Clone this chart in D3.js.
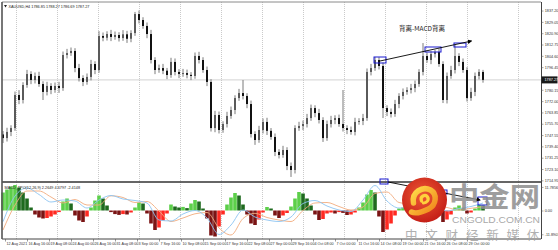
<!DOCTYPE html>
<html><head><meta charset="utf-8">
<script src="https://cdn.jsdelivr.net/npm/d3@7"></script>
<style>html,body{margin:0;padding:0;background:#fff;overflow:hidden}svg{display:block}</style>
</head><body>
<svg id="c" width="558" height="250"></svg>
<script>
// ---------- DATA ----------
const symbolTitle = "XAUUSD,H4  1786.85 1788.27 1786.69 1787.27";
const macdTitle = "MACD_TPO(12,26,9) 2.2649 4.6797 -2.4148";
const openFirst = 1748.0;
const closes = [
1745.4,1749.8,1752.6,1776.4,1772.8,1783.6,1791.5,1787.2,1790.1,1784.3,
1778.6,1782.9,1780.0,1782.9,1781.4,1805.2,1806.6,1808.1,1795.8,1788.6,
1785.8,1789.4,1798.7,1794.4,1818.9,1817.6,1820.3,1818.2,1819.6,1817.4,
1820.1,1816.9,1821.0,1834.7,1830.4,1826.1,1820.3,1801.6,1794.4,1795.8,
1793.9,1790.8,1800.2,1793.0,1791.5,1792.2,1790.9,1790.1,1804.5,1801.6,
1794.4,1785.8,1752.6,1762.0,1751.2,1755.5,1761.3,1765.6,1774.2,1777.8,
1775.7,1769.9,1748.3,1744.0,1751.2,1757.0,1750.6,1746.2,1735.4,1733.2,
1736.8,1725.3,1722.4,1752.6,1754.1,1755.5,1759.8,1767.0,1763.4,1758.4,
1745.4,1755.5,1758.4,1759.8,1755.5,1752.6,1751.2,1749.8,1757.0,1757.7,
1759.8,1793.0,1795.8,1801.6,1797.3,1767.0,1764.2,1762.7,1769.9,1775.7,
1778.6,1780.0,1781.4,1784.3,1793.0,1804.5,1801.6,1805.9,1807.4,1798.7,
1772.8,1790.1,1794.4,1804.5,1800.2,1794.4,1774.2,1778.6,1790.1,1793.0,
1787.27];
const wickUp = [
2.5,3,2,2.5,3.5,2,3,2,2.5,3, 2,3,2,2.5,3,2.5,3,2.5,2,3,
2,2.5,3,2,3.5,2.5,2,3,2.5,2, 3,2.5,2,1.5,2.5,2,2.5,3,2,2.5,
3,2,3,2.5,2,3,2.5,2,2.5,3, 2,2.5,2,3,2.5,2,3,2.5,2,3,
9.4,2,2.5,2,3,2.5,3,2,2.5,2, 3,2,2.5,2,3,2.5,3,2.5,2,3,
2,2.5,3,2,2.5,24.5,2,2.5,3,2, 3,2.5,3,2.2,2,2.5,2,2.5,3,2,
2.5,2,3,2.5,2,9.3,2.5,2,1.5,2.5, 2,2.5,3,7.9,2,2.5,2,3,2.5,2,
1.5];
const wickDn = [
3.6,2.5,3,2,3,2.5,2,3,2.5,2, 5.8,2.5,3,2,3.5,2,2.5,2,3,2.5,
3,2,2.5,3,2,2.5,2,3,2,2.5, 2,3,2.5,2,2.5,2,3,2.5,3,2,
2.5,3,2,2.5,3,2,2.5,3,2,2.5, 2,3,2.5,3,2.5,2,2.5,2,3,2,
2.5,3,2.5,3.5,2,2.5,3,2,3,2.5, 2,3,5,2.5,2,3,2.5,2,3,2.5,
2.8,2,2.5,3,2,2.5,3,2,2.5,2, 3,2,2.5,2,2.5,7.2,3,2.5,2,3,
2.5,2,2.5,3,2,2.5,2,3,2.5,2, 2.2,2.5,2,2.5,3,2,2.5,2,3,2.5,
2];
const lastPrice = 1787.27;
const histogram = [
9.0,10.5,12.0,12.75,11.5,9.0,6.0,1.5,
-2.0,-3.5,-4.0,-3.75,-3.0,-2.0,-0.8,
4.5,6.0,3.5,
-2.5,-5.0,-5.75,-3.0,
1.5,5.0,7.5,6.0,2.5,
-0.8,-1.8,-2.2,-1.8,-2.0,-1.0,
1.5,4.0,3.5,
-1.5,-6.5,-9.75,-8.5,-5.0,-1.5,
3.0,2.0,1.5,1.8,1.2,
3.5,5.25,4.5,1.0,
-4.0,-12.5,-13.0,-8.0,-2.0,
3.0,6.5,8.75,7.5,3.0,
-2.0,-6.5,-7.25,-4.5,-1.0,
1.75,1.0,
-2.5,-3.75,-2.5,-1.25,
2.0,6.0,9.25,8.5,6.0,2.5,
-2.0,-4.75,-4.25,-1.5,
-1.0,-1.5,-0.8,-1.2,
-2.25,-2.0,-1.0,
1.5,4.0,8.0,10.25,9.0,
-3.0,-10.75,-9.5,-6.5,-2.5,
1.0,1.5,0.8,
-0.5,1.0,2.0,3.0,2.0,0.8,-1.0,
-2.5,-5.75,-4.5,-2.0,
1.5,2.5,1.0,-1.5,-1.0,
1.0,2.75,2.5];
// MACD lines, one value every 3 bars
const macdStep = 3;
const macdMain = [-5.6,7.25,11.25,8.0,4.25,5.25,4.75,1.25,5.25,7.5,5.75,5.0,3.75,-4.75,-5.25,-1.75,0,-3.75,-12.0,-7.25,0.25,-3.25,-4.75,-5.5,-3.25,3.5,5.0,2.25,0.25,-0.5,5.25,12.5,4.75,1.25,1.5,2.0,2.5,-0.25,1.0,2.0,3.75];
const macdSignal = [-9.75,2.75,9.75,9.75,6.75,3.75,5.5,2.75,2.75,7.35,6.5,4.0,4.5,-0.25,-5.5,-3.75,-1.65,-1.0,-8.75,-12.25,-4.0,-1.4,-3.5,-4.75,-5.5,0,3.75,4.0,2.0,0.25,1.75,8.5,9.25,4.0,3.25,2.75,2.75,1.5,0.25,1.1,1.9];
const priceTicks = [1837.20,1829.05,1820.90,1812.75,1804.60,1796.45,1788.30,1780.15,1772.00,1763.85,1755.70,1747.55,1739.40,1731.25,1723.10,1714.95];
const macdTicks = [11.7856, 0, -11.8901];
const macdTickLabels = ["11.7856","0.00","-11.8901"];
const timeLabels = ["12 Aug 2021","16 Aug 16:00","19 Aug 08:00","24 Aug 00:00","26 Aug 16:00","31 Aug 08:00","3 Sep 00:00","7 Sep 16:00","10 Sep 08:00","15 Sep 00:00","17 Sep 16:00","22 Sep 08:00","27 Sep 00:00","29 Sep 16:00","4 Oct 08:00","7 Oct 00:00","11 Oct 16:00","14 Oct 08:00","19 Oct 00:00","21 Oct 16:00","26 Oct 08:00","29 Oct 00:00"];
// annotations (bar index / price or macd value)
const priceBoxes = [[92.75,95.75,1799.44,1803.76],[105.5,109.5,1807.36,1810.96],[112.75,115.75,1810.96,1813.84]];
const priceArrow = [[94.25,1800.88],[117.1,1815.28]];
const macdBoxes = [[94.25,96.25,13.25,15.75],[109.75,111,8.25,10.25],[118.75,121,2.75,6.75]];
const macdArrow = [[96.25,14.25],[119.25,5.25]];
const noteText = "背离-MACD背离";
const notePos = [104.75, 1822.48];

// ---------- LAYOUT ----------
const W=558,H=250, X0=2, X1=541, Y0=2, Y1=181, M0=183, M1=238;
const svg = d3.select("#c");
const n = closes.length;
const x = d3.scaleLinear().domain([0, n-1]).range([3, 483]);
const y = d3.scaleLinear().domain([1714.48, 1843.36]).range([Y1, Y0]);
const ym = d3.scaleLinear().domain([-13.75, 13.75]).range([M1, M0]);
const FONT = "Liberation Sans, Arial, sans-serif";

svg.append("rect").attr("width",W).attr("height",H).attr("fill","#fff");
const defs = svg.append("defs");
defs.append("marker").attr("id","arr").attr("viewBox","0 0 10 10").attr("refX",8).attr("refY",5)
  .attr("markerWidth",5).attr("markerHeight",5).attr("orient","auto")
  .append("path").attr("d","M0,0 L10,5 L0,10 z").attr("fill","#000");

// vertical grid
const gridIdx = d3.range(12).map(k => 3.25 + 10.25*k).concat([128.75]);
svg.append("g").selectAll("line").data(gridIdx).join("line")
  .attr("x1",d=>Math.round(x(d))+0.5).attr("x2",d=>Math.round(x(d))+0.5)
  .attr("y1",Y0).attr("y2",M1+1)
  .attr("stroke","#bdbdbd").attr("stroke-width",0.8).attr("stroke-dasharray","1,1");

// current price line
svg.append("line").attr("x1",X0).attr("x2",X1).attr("y1",y(lastPrice)).attr("y2",y(lastPrice))
  .attr("stroke","#c8c8c8").attr("stroke-width",0.8);

// candles
const bars = closes.map((c,i)=>{const o = i ? closes[i-1] : openFirst;
  return {i,o,c,h:Math.max(o,c)+wickUp[i], l:Math.min(o,c)-wickDn[i]};});
const gc = svg.append("g");
gc.selectAll("line").data(bars).join("line")
  .attr("x1",d=>x(d.i)).attr("x2",d=>x(d.i))
  .attr("y1",d=>y(d.h)).attr("y2",d=>y(d.l))
  .attr("stroke","#7a7a7a").attr("stroke-width",1);
gc.selectAll("rect").data(bars).join("rect")
  .attr("x",d=>x(d.i)-1).attr("width",2)
  .attr("y",d=>y(Math.max(d.o,d.c)))
  .attr("height",d=>Math.max(1, Math.abs(y(d.o)-y(d.c))))
  .attr("fill",d=>d.c>=d.o ? "#5a5a5a" : "#111");

// MACD histogram
const gh = svg.append("g");
gh.selectAll("rect").data(histogram).join("rect")
  .attr("x",(d,i)=>x(i)-1.8).attr("width",3.6)
  .attr("y",d=>Math.min(ym(d),ym(0))).attr("height",d=>Math.abs(ym(d)-ym(0)))
  .attr("fill",(d,i)=>{const up = i===0 || d>=histogram[i-1];
     if (d>=0) return up ? "#5ccf4a" : "#1f6a1f";
     return up ? "#ff2a22" : "#7a1414";});

// MACD lines
const lineGen = d3.line().x((d,i)=>x(i*macdStep)).y(d=>ym(d)).curve(d3.curveMonotoneX);
svg.append("path").attr("d",lineGen(macdSignal)).attr("fill","none").attr("stroke","#f2ab7e").attr("stroke-width",0.9);
svg.append("path").attr("d",lineGen(macdMain)).attr("fill","none").attr("stroke","#8cc4f2").attr("stroke-width",0.9);

// frames
svg.append("line").attr("x1",X0).attr("x2",X1).attr("y1",Y0).attr("y2",Y0).attr("stroke","#8a8a8a").attr("stroke-width",1);
svg.append("line").attr("x1",X0).attr("x2",X1).attr("y1",182).attr("y2",182).attr("stroke","#333").attr("stroke-width",1.6);
svg.append("line").attr("x1",X0).attr("x2",X1).attr("y1",M1+1).attr("y2",M1+1).attr("stroke","#444").attr("stroke-width",1);
svg.append("line").attr("x1",X0).attr("x2",X0).attr("y1",Y0).attr("y2",M1+1).attr("stroke","#555").attr("stroke-width",1.6);
svg.append("line").attr("x1",X1+0.5).attr("x2",X1+0.5).attr("y1",Y0).attr("y2",M1+1).attr("stroke","#444").attr("stroke-width",1);

// price axis
const gy = svg.append("g").attr("transform",`translate(${X1+0.5},0)`)
  .call(d3.axisRight(y).tickValues(priceTicks.filter(v=>Math.abs(y(v)-y(lastPrice))>5))
  .tickSize(2).tickPadding(1.2).tickFormat(d3.format(".2f")));
gy.select(".domain").remove();
gy.attr("font-size",3.8).attr("font-family",FONT);
gy.selectAll("text").attr("fill","#333");
gy.selectAll("line").attr("stroke","#666").attr("stroke-width",0.6);

// current price tag
svg.append("rect").attr("x",X1+0.5).attr("y",y(lastPrice)-3.5).attr("width",16).attr("height",7).attr("fill","#1a1a1a");
svg.append("text").attr("x",X1+3.5).attr("y",y(lastPrice)+1.4).attr("font-size",3.8).attr("font-family",FONT)
  .attr("fill","#fff").text(lastPrice.toFixed(2));

// macd axis
const gm = svg.append("g").attr("transform",`translate(${X1+0.5},0)`)
  .call(d3.axisRight(ym).tickValues(macdTicks).tickSize(2).tickPadding(1.2).tickFormat((d,i)=>macdTickLabels[i]));
gm.select(".domain").remove();
gm.attr("font-size",3.8).attr("font-family",FONT);
gm.selectAll("text").attr("fill","#333");
gm.selectAll("line").attr("stroke","#666").attr("stroke-width",0.6);

// time axis
const labelIdx = timeLabels.map((t,k)=>0.5+5.5*k);
const gx = svg.append("g").attr("transform",`translate(0,${M1+1})`)
  .call(d3.axisBottom(x).tickValues(labelIdx).tickSize(2.5).tickPadding(1).tickFormat((d,i)=>timeLabels[i]));
gx.select(".domain").remove();
gx.attr("font-size",3.7).attr("font-family",FONT);
gx.selectAll("text").attr("fill","#333").attr("text-anchor","start").attr("x",1);
gx.selectAll("line").attr("stroke","#555").attr("stroke-width",0.6);

// titles
svg.append("path").attr("d","M4,5 L7,5 L5.5,7.5 z").attr("fill","#222");
svg.append("text").attr("x",8.5).attr("y",7.6).attr("font-size",3.8).attr("font-family",FONT).attr("fill","#222").text(symbolTitle);
svg.append("text").attr("x",4.5).attr("y",188.5).attr("font-size",3.8).attr("font-family",FONT).attr("fill","#222").text(macdTitle);

// annotations
const ga = svg.append("g");
ga.selectAll("rect.pb").data(priceBoxes).join("rect").attr("class","pb")
  .attr("x",d=>x(d[0])).attr("width",d=>x(d[1])-x(d[0]))
  .attr("y",d=>y(d[3])).attr("height",d=>y(d[2])-y(d[3]))
  .attr("fill","none").attr("stroke","#1a1ad0").attr("stroke-width",1);
ga.append("line").attr("x1",x(priceArrow[0][0])).attr("y1",y(priceArrow[0][1]))
  .attr("x2",x(priceArrow[1][0])).attr("y2",y(priceArrow[1][1]))
  .attr("stroke","#000").attr("stroke-width",0.9).attr("marker-end","url(#arr)");
ga.selectAll("rect.mb").data(macdBoxes).join("rect").attr("class","mb")
  .attr("x",d=>x(d[0])).attr("width",d=>x(d[1])-x(d[0]))
  .attr("y",d=>ym(d[3])).attr("height",d=>ym(d[2])-ym(d[3]))
  .attr("fill","none").attr("stroke","#1a1ad0").attr("stroke-width",1);
ga.append("line").attr("x1",x(macdArrow[0][0])).attr("y1",ym(macdArrow[0][1]))
  .attr("x2",x(macdArrow[1][0])).attr("y2",ym(macdArrow[1][1]))
  .attr("stroke","#000").attr("stroke-width",0.9).attr("marker-end","url(#arr)");
ga.append("text").attr("x",x(notePos[0])).attr("y",y(notePos[1])).attr("text-anchor","middle")
  .attr("font-size",6.5).attr("font-family","Noto Sans CJK SC, sans-serif").attr("fill","#222").text(noteText);

// watermark
const wm = svg.append("g");
const rg = defs.append("radialGradient").attr("id","rg").attr("cx","45%").attr("cy","40%").attr("r","60%");
rg.append("stop").attr("offset","0%").attr("stop-color","#ee5a36");
rg.append("stop").attr("offset","100%").attr("stop-color","#c51f17");
const lg = defs.append("linearGradient").attr("id","lg").attr("x1","0").attr("y1","0").attr("x2","1").attr("y2","1");
lg.append("stop").attr("offset","0%").attr("stop-color","#ffe04a");
lg.append("stop").attr("offset","100%").attr("stop-color","#f0821a");
const cx=424.5, cy=200;
wm.append("circle").attr("cx",cx).attr("cy",cy).attr("r",22.5).attr("fill","url(#rg)");
wm.append("path").attr("d",`M${cx-11},${cy+3} C${cx-13},${cy-8} ${cx-2},${cy-14} ${cx+6},${cy-10} C${cx+13},${cy-6} ${cx+12},${cy+5} ${cx+4},${cy+9} C${cx-2},${cy+12} ${cx-9},${cy+14} ${cx-13},${cy+12}`)
  .attr("fill","none").attr("stroke","url(#lg)").attr("stroke-width",5.5).attr("stroke-linecap","round");
wm.append("path").attr("d",`M${cx-3},${cy+1} C${cx-5},${cy-4} ${cx+1},${cy-6} ${cx+3},${cy-3} C${cx+5},${cy} ${cx+2},${cy+3} ${cx-1},${cy+3}`)
  .attr("fill","none").attr("stroke","#ffd23c").attr("stroke-width",3.2).attr("stroke-linecap","round");
wm.append("text").attr("x",449).attr("y",207).attr("font-size",27).attr("font-weight","bold")
  .attr("font-family","Noto Sans CJK SC, sans-serif").attr("fill","#8e8e8e").attr("opacity",0.85)
  .attr("textLength",91).attr("lengthAdjust","spacingAndGlyphs").text("中金网");
wm.append("text").attr("x",452).attr("y",222.5).attr("font-size",9)
  .attr("font-family",FONT).attr("fill","#9a9a9a").attr("opacity",0.85)
  .attr("textLength",88).attr("lengthAdjust","spacingAndGlyphs").text("CNGOLD.COM.CN");
const cn = ["中","文","财","经","新","媒","体"];
wm.selectAll("text.cn").data(cn).join("text").attr("class","cn")
  .attr("x",(d,i)=>405+i*20.3).attr("y",239.5).attr("font-size",12.5)
  .attr("font-family","Noto Sans CJK SC, sans-serif").attr("fill","#a3a3a3").attr("opacity",0.85).text(d=>d);
</script>
</body></html>
